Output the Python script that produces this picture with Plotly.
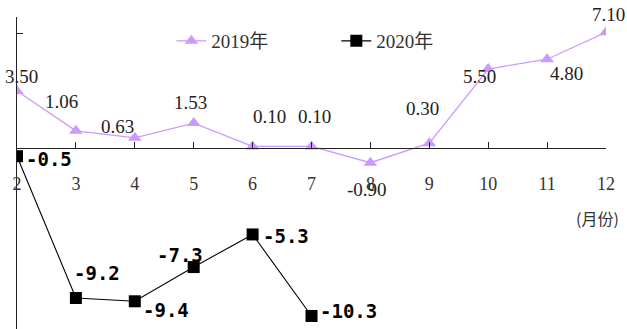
import plotly.graph_objects as go

months = [2, 3, 4, 5, 6, 7, 8, 9, 10, 11, 12]
tick_labels = ['2', '3', '4', '5', '6', '7', '8', '9', '10', '11', '12']
growth_2019 = [3.50, 1.06, 0.63, 1.53, 0.10, 0.10, -0.90, 0.30, 4.85, 5.45, 7.10]
labels_2019 = ['3.50', '1.06', '0.63', '1.53', '0.10', '0.10', '-0.90', '0.30', '5.50', '4.80', '7.10']
months_2020 = [2, 3, 4, 5, 6, 7]
growth_2020 = [-0.5, -9.2, -9.4, -7.3, -5.3, -10.3]

# label offsets (px) so the numbers sit where the original puts them
off_2019 = [(4, 15), (-14, 29), (-17, 11), (-3, 21), (17, 30), (3, 30), (-3, -27), (-7, 35), (-9, -7), (19, -14), (2, 18)]
off_2020 = [(32, -3), (21, 25), (31, -9), (-14, 12), (33, -2), (37, 5)]

PURPLE = '#CC99FF'
y_lo, y_hi = -11.1, 8.04

fig = go.Figure()
fig.add_trace(go.Scatter(
    x=months, y=growth_2019, mode='lines+markers', name='2019年',
    line=dict(color=PURPLE, width=1.3),
    marker=dict(symbol='triangle-up', size=12, color=PURPLE),
))
fig.add_trace(go.Scatter(
    x=months_2020, y=growth_2020, mode='lines+markers', name='2020年',
    line=dict(color='black', width=1.1),
    marker=dict(symbol='square', size=12, color='black'),
))

for m, v, txt, (dx, dy) in zip(months, growth_2019, labels_2019, off_2019):
    fig.add_annotation(x=m, y=v, text=txt, showarrow=False, xshift=dx, yshift=dy,
                       font=dict(family='Liberation Serif, Noto Sans CJK SC', size=19, color='#222'))
for m, v, (dx, dy) in zip(months_2020, growth_2020, off_2020):
    fig.add_annotation(x=m, y=v, text=f"<b>{v:.1f}</b>", showarrow=False, xshift=dx, yshift=dy,
                       font=dict(family='DejaVu Sans Mono', size=19, color='black'))

fig.add_annotation(xref='paper', yref='paper', x=0.985, y=0.356, xanchor='center', yanchor='middle',
                   text='(月份)', showarrow=False,
                   font=dict(family='Noto Sans CJK SC', size=16, color='#333'))

fig.update_layout(
    width=627, height=329,
    margin=dict(l=17, r=21, t=17, b=0),
    paper_bgcolor='white', plot_bgcolor='white',
    showlegend=True,
    legend=dict(orientation='h', x=0.262, y=0.923, xanchor='left', yanchor='middle',
                entrywidth=120, bgcolor='rgba(0,0,0,0)',
                font=dict(family='Liberation Serif, Noto Sans CJK SC', size=19, color='#333')),
    font=dict(family='Liberation Serif, Noto Sans CJK SC', size=16, color='#333'),
)
fig.update_xaxes(
    range=[2, 12], tickvals=months, ticktext=tick_labels,
    showgrid=False, zeroline=False, showline=True, linecolor='#222', linewidth=1.3,
    ticks='inside', ticklen=6, tickcolor='#222', ticklabelstandoff=19,
    anchor='free', position=(0 - y_lo) / (y_hi - y_lo),
    tickfont=dict(family='Liberation Serif', size=18, color='#333'),
)
fig.update_yaxes(
    range=[y_lo, y_hi], tickvals=[7], showticklabels=False,
    showgrid=False, zeroline=False, showline=True, linecolor='#222', linewidth=1.3,
    ticks='inside', ticklen=6, tickcolor='#222',
)

fig.write_html("out.html", config={'displayModeBar': False},
               post_script="document.body.style.margin='0';")
